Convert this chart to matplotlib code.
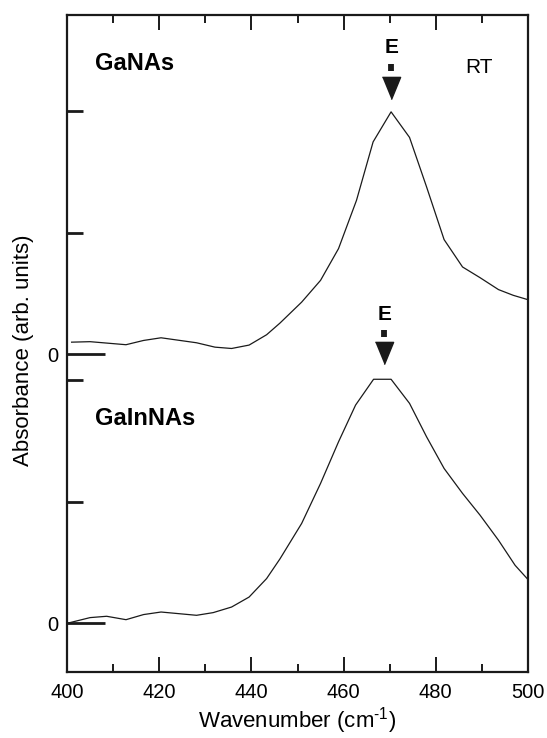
import matplotlib
matplotlib.use("Agg")
import matplotlib.pyplot as plt
import numpy as np

plt.rcParams['font.family'] = ['Liberation Sans', 'DejaVu Sans']
plt.rcParams['mathtext.fontset'] = 'custom'
plt.rcParams['mathtext.rm'] = 'Liberation Sans'

# Data (wavenumber, absorbance in arbitrary units)
ganas_x = [401.0, 405.0, 412.8, 416.6, 420.4, 428.1, 432.1, 435.7, 439.5, 443.3,
           446.2, 450.9, 455.0, 458.9, 462.8, 466.4, 470.3, 474.3, 478.0, 481.8,
           485.8, 489.6, 493.6, 496.8, 500.0]
ganas_y = [0.101, 0.105, 0.080, 0.115, 0.137, 0.096, 0.060, 0.049, 0.077, 0.162,
           0.258, 0.430, 0.609, 0.870, 1.267, 1.747, 1.994, 1.784, 1.377, 0.944,
           0.719, 0.631, 0.533, 0.486, 0.450]

gainnas_x = [400.0, 405.0, 408.6, 412.8, 416.6, 420.4, 428.1, 431.7, 435.7, 439.5,
             443.3, 446.2, 450.9, 455.0, 458.9, 462.6, 466.5, 470.3, 474.3, 478.0,
             481.8, 485.8, 489.6, 493.6, 497.2, 500.0]
gainnas_y = [0.000, 0.047, 0.058, 0.030, 0.072, 0.093, 0.066, 0.088, 0.134, 0.216,
             0.368, 0.530, 0.821, 1.150, 1.492, 1.794, 2.006, 2.006, 1.808, 1.533,
             1.273, 1.068, 0.889, 0.683, 0.477, 0.360]

ganas_offset = 2.21
peak_ganas = 470.3
peak_gainnas = 468.8

fig = plt.figure(figsize=(5.47, 7.38), dpi=100)
ax = fig.add_axes([67/547, 1-672/738, (528-67)/547, (672-15)/738])

ax.plot(ganas_x, np.array(ganas_y) + ganas_offset, color='#1a1a1a', lw=0.9)
ax.plot(gainnas_x, gainnas_y, color='#1a1a1a', lw=0.9)

ax.set_xlim(400, 500)
ax.set_ylim(-0.40, 5.0)

for s in ax.spines.values():
    s.set_linewidth(1.6)
    s.set_color('#1a1a1a')

ax.set_xticks([400, 420, 440, 460, 480, 500])
ax.set_xticks([410, 430, 450, 470, 490], minor=True)
ax.tick_params(axis='x', which='major', direction='in', top=True, bottom=True,
               length=10.5, width=1.4, labelsize=14.5, pad=8, color='#1a1a1a')
ax.tick_params(axis='x', which='minor', direction='in', top=True, bottom=True,
               length=5.5, width=1.4, color='#1a1a1a')

ax.set_yticks([0, ganas_offset])
ax.set_yticklabels(['0', '0'])
ax.set_yticks([1, 2, ganas_offset + 1, ganas_offset + 2], minor=True)
ax.tick_params(axis='y', which='major', direction='in', left=True, right=False,
               length=27, width=2.0, labelsize=14.5, pad=6, color='#1a1a1a')
ax.tick_params(axis='y', which='minor', direction='in', left=True, right=False,
               length=11.5, width=2.0, color='#1a1a1a')

ax.set_xlabel('Wavenumber (cm$^{\\text{-1}}$)', fontsize=16, labelpad=2.5)
ax.set_ylabel('Absorbance (arb. units)', fontsize=16)
ax.yaxis.set_label_coords(-0.072, 0.49)

# Sample labels
ax.text(406, 4.60, 'GaNAs', fontsize=17, fontweight='bold', va='center', ha='left')
ax.text(406, 1.68, 'GaInNAs', fontsize=17, fontweight='bold', va='center', ha='left')
ax.text(486.3, 4.57, 'RT', fontsize=15, va='center', ha='left')

# Peak markers E
tri = [(-0.82, 1), (0.82, 1), (0, -1)]
def mark(xp, ytext, ydash_top, ydash_bot, ytri):
    ax.text(xp, ytext, 'E', fontsize=15, fontweight='bold', ha='center', va='center')
    ax.plot([xp, xp], [ydash_bot, ydash_top], color='#1a1a1a', lw=4.2, solid_capstyle='butt')
    ax.plot([xp], [ytri], marker=tri, markersize=16, color='#1a1a1a', linestyle='none')

px = 121.5
def ypx(p):
    return (623 - p) / px

mark(peak_ganas, ypx(48), ypx(64), ypx(71), ypx(88))
mark(peak_gainnas, ypx(315), ypx(330), ypx(337), ypx(353.5))

fig.savefig('out.png', dpi=100)
